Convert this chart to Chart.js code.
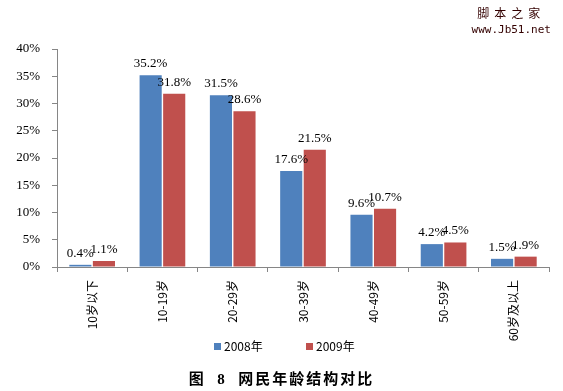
<!DOCTYPE html>
<html>
<head>
<meta charset="utf-8">
<script src="https://cdn.jsdelivr.net/npm/chart.js@4"></script>
<style>
  body { margin: 0; background: #fff; }
  #wrap { position: relative; width: 563px; height: 391px; }
  #legend { position: absolute; top: 337px; left: 0; width: 563px; font: 12px "Noto Sans CJK SC", sans-serif; color: #000; }
  #legend span.item { position: absolute; top: 0; }
  #legend i { display: inline-block; width: 7px; height: 7px; margin-right: 3px; vertical-align: 1px; }
  #title { position: absolute; top: 367px; left: 0; width: 563px; text-align: center; font: bold 15px "Noto Sans CJK SC", sans-serif; letter-spacing: 2px; word-spacing: 6px; }
  #site { position: absolute; right: 12px; top: 4px; text-align: center; color: #300; }
  #site .a { font: 12px "Noto Sans CJK SC", sans-serif; letter-spacing: 5px; }
  #site .b { font: 11px "DejaVu Sans Mono", monospace; margin-top: 2px; }
</style>
</head>
<body>
<div id="wrap">
  <canvas id="chart" width="563" height="391"></canvas>
  <div id="legend">
    <span class="item" style="left:214px"><i style="background:#4F81BD"></i>2008年</span>
    <span class="item" style="left:306px"><i style="background:#C0504D"></i>2009年</span>
  </div>
  <div id="title">图 <span style="font-family:'Liberation Serif',serif">8</span> 网民年龄结构对比</div>
  <div id="site"><div class="a">脚本之家</div><div class="b">www.Jb51.net</div></div>
</div>
<script>
// categories and values
const ageGroups = ['10岁以下', '10-19岁', '20-29岁', '30-39岁', '40-49岁', '50-59岁', '60岁及以上'];
const year2008 = [0.4, 35.2, 31.5, 17.6, 9.6, 4.2, 1.5];
const year2009 = [1.1, 31.8, 28.6, 21.5, 10.7, 4.5, 1.9];
const yTicks = [0, 5, 10, 15, 20, 25, 30, 35, 40];

// draw value labels above each bar
const valueLabels = {
    id: 'valueLabels',
    afterDatasetsDraw(chart) {
        const c = chart.ctx;
        c.save();
        c.font = "13px 'Liberation Serif', serif";
        c.fillStyle = "#000";
        c.textAlign = "center";
        c.textBaseline = "bottom";
        chart.data.datasets.forEach(function (ds, i) {
            chart.getDatasetMeta(i).data.forEach(function (bar, j) {
                c.fillText(ds.data[j].toFixed(1) + '%', bar.x, bar.y - 5);
            });
        });
        c.restore();
    }
};

new Chart(document.getElementById('chart'), {
    type: 'bar',
    data: {
        labels: ageGroups,
        datasets: [
            { label: '2008年', data: year2008, backgroundColor: '#4F81BD' },
            { label: '2009年', data: year2009, backgroundColor: '#C0504D' }
        ]
    },
    options: {
        responsive: false,
        animation: false,
        categoryPercentage: 0.67,
        barPercentage: 0.94,
        layout: { padding: { top: 49, right: 14, bottom: 40, left: 0 } },
        plugins: {
            legend: { display: false },
            tooltip: { enabled: false }
        },
        scales: {
            x: {
                grid: { offset: true, drawOnChartArea: false, tickLength: 5, color: '#868686' },
                border: { color: '#868686' },
                ticks: {
                    minRotation: 90, maxRotation: 90, padding: 8,
                    color: '#000',
                    font: { family: "'Noto Sans CJK SC', sans-serif", size: 12 }
                },
                afterFit(scale) { scale.height = 84; }
            },
            y: {
                min: 0, max: 40,
                afterBuildTicks(scale) { scale.ticks = yTicks.map(v => ({ value: v })); },
                grid: { drawOnChartArea: false, tickLength: 5, color: '#868686' },
                border: { color: '#868686' },
                ticks: {
                    padding: 12,
                    color: '#000',
                    font: { family: "'Liberation Serif', serif", size: 13 },
                    callback: v => v + '%'
                },
                afterFit(scale) { scale.width = 57; }
            }
        }
    },
    plugins: [valueLabels]
});
</script>
</body>
</html>
